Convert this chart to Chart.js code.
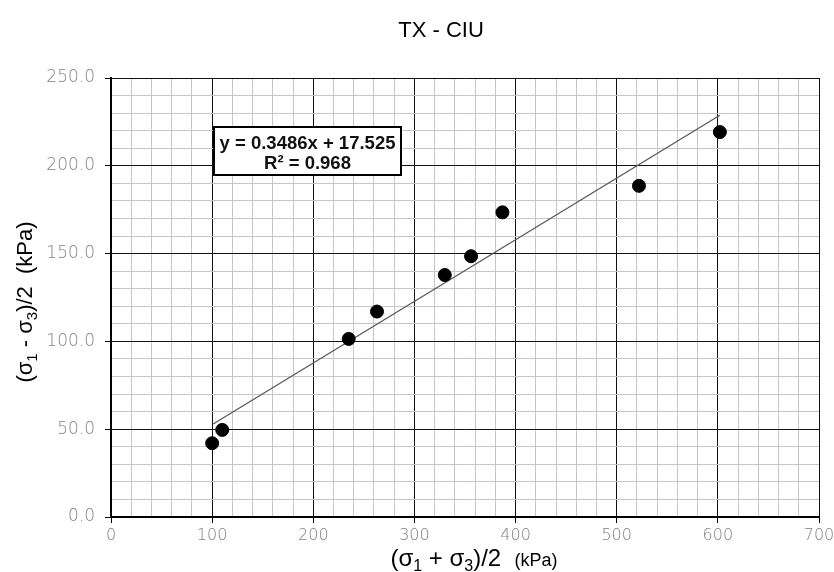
<!DOCTYPE html>
<html>
<head>
<meta charset="utf-8">
<script src="https://cdn.jsdelivr.net/npm/chart.js@4"></script>
<style>
html,body{margin:0;padding:0;background:#fff;}
#wrap{width:834px;height:572px;position:relative;}
</style>
</head>
<body>
<div id="wrap"><canvas id="c" width="834" height="572"></canvas></div>
<script>
// ---- data ----
const pointsX = [100, 110, 235, 263, 330, 356, 387, 522, 602];
const pointsY = [42.0, 49.6, 101.4, 117.0, 137.8, 148.5, 173.5, 188.6, 219.2];
const trendX = [101, 602];
const trendY = [53.0, 228.8];
const chartTitle = 'TX - CIU';
const equationLines = ['y = 0.3486x + 17.525', 'R\u00B2 = 0.968'];
const xMajorTicks = [0, 100, 200, 300, 400, 500, 600, 700];
const yMajorTicks = [0, 50, 100, 150, 200, 250];

const scatterData = pointsX.map((x, i) => ({x: x, y: pointsY[i]}));
const trendData = trendX.map((x, i) => ({x: x, y: trendY[i]}));

const MAJOR = '#111';
const MINOR = '#c6c6c6';
const TICKFONT = {family: '"DejaVu Sans", sans-serif', size: 17, weight: '200'};
const XTICKFONT = {family: '"DejaVu Sans", sans-serif', size: 16, weight: '200'};

function drawRich(ctx, parts, x, y, align) {
  let total = 0;
  parts.forEach(p => { ctx.font = p[1] + 'px "Liberation Sans", Arial, sans-serif'; total += ctx.measureText(p[0]).width; });
  let cx = align === 'center' ? x - total / 2 : x;
  parts.forEach(p => {
    ctx.font = p[1] + 'px "Liberation Sans", Arial, sans-serif';
    ctx.fillText(p[0], cx, y + (p[2] || 0));
    cx += ctx.measureText(p[0]).width;
  });
}

const overlay = {
  id: 'overlay',
  afterDraw(chart) {
    const ctx = chart.ctx;
    const a = chart.chartArea;
    ctx.save();
    ctx.fillStyle = '#000';
    ctx.textBaseline = 'alphabetic';
    // chart title
    ctx.font = '22px "Liberation Sans", Arial, sans-serif';
    ctx.textAlign = 'center';
    ctx.fillText(chartTitle, 441, 37);
    ctx.textAlign = 'left';
    // x axis title
    drawRich(ctx, [['(\u03C3', 24], ['1', 16, 5], [' + \u03C3', 24], ['3', 16, 5], [')/2  ', 24], ['(kPa)', 18]], 474, 566, 'center');
    // y axis title (rotated)
    ctx.save();
    ctx.translate(32, 302);
    ctx.rotate(-Math.PI / 2);
    drawRich(ctx, [['(\u03C3', 22], ['1', 15, 5], [' - \u03C3', 22], ['3', 15, 5], [')/2  ', 22], ['(kPa)', 22]], 0, 0, 'center');
    ctx.restore();
    // equation box
    const bx = a.left + 103, by = a.top + 49, bw = 187, bh = 48;
    ctx.fillStyle = '#fff';
    ctx.fillRect(bx, by, bw, bh);
    ctx.strokeStyle = '#000';
    ctx.lineWidth = 2;
    ctx.strokeRect(bx, by, bw, bh);
    ctx.fillStyle = '#111';
    ctx.font = 'bold 18.5px "Liberation Sans", Arial, sans-serif';
    ctx.textAlign = 'center';
    ctx.fillText(equationLines[0], bx + bw / 2, by + 22);
    ctx.fillText(equationLines[1], bx + bw / 2, by + 42);
    ctx.restore();
  }
};

new Chart(document.getElementById('c'), {
  data: {
    datasets: [
      {
        type: 'line',
        data: trendData,
        borderColor: '#555',
        borderWidth: 1.2,
        pointRadius: 0,
        fill: false,
        order: 2
      },
      {
        type: 'scatter',
        data: scatterData,
        backgroundColor: '#000',
        borderColor: '#000',
        pointRadius: 6.5,
        pointHoverRadius: 6.5,
        order: 1
      }
    ]
  },
  options: {
    responsive: false,
    animation: false,
    events: [],
    layout: {padding: {left: 0, right: 8, top: 78, bottom: 0}},
    plugins: {legend: {display: false}, tooltip: {enabled: false}, title: {display: false}},
    scales: {
      x: {
        type: 'linear',
        min: 0, max: 700,
        afterFit(s) { s.height = 55; s.paddingRight = 15; },
        afterBuildTicks(s) {
          const t = [];
          for (let v = 0; v <= 700; v += 20) t.push({value: v});
          s.ticks = t;
        },
        ticks: {
          autoSkip: false,
          maxRotation: 0,
          color: '#808080',
          font: XTICKFONT,
          padding: 3,
          callback: v => xMajorTicks.includes(v) ? String(v) : ''
        },
        grid: {
          color: c => (c.tick && c.tick.value % 100 === 0) ? MAJOR : MINOR,
          lineWidth: 1,
          tickLength: 6,
          tickColor: c => (c.tick && c.tick.value % 100 === 0) ? '#000' : 'rgba(0,0,0,0)'
        },
        border: {color: '#000', width: 2}
      },
      y: {
        type: 'linear',
        min: 0, max: 250,
        afterFit(s) { s.width = 111; },
        afterBuildTicks(s) {
          const t = [];
          for (let v = 0; v <= 250; v += 10) t.push({value: v});
          s.ticks = t;
        },
        ticks: {
          autoSkip: false,
          color: '#808080',
          font: TICKFONT,
          padding: 10,
          callback: v => yMajorTicks.includes(v) ? v.toFixed(1) : ''
        },
        grid: {
          color: c => (c.tick && c.tick.value % 50 === 0) ? MAJOR : MINOR,
          lineWidth: 1,
          tickLength: 6,
          tickColor: c => (c.tick && c.tick.value % 50 === 0) ? '#000' : 'rgba(0,0,0,0)'
        },
        border: {color: '#000', width: 2}
      }
    }
  },
  plugins: [overlay]
});
</script>
</body>
</html>
